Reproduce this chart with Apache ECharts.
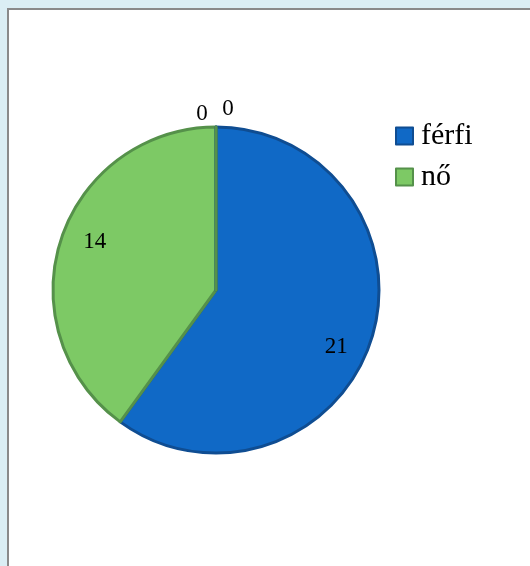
<!DOCTYPE html>
<html>
<head>
<meta charset="utf-8">
<script src="https://cdn.jsdelivr.net/npm/echarts@6/dist/echarts.min.js"></script>
<style>
  html, body { margin: 0; padding: 0; background: #dbeef4; overflow: hidden; }
  #chart {
    position: absolute; left: 7px; top: 8px;
    width: 540px; height: 570px;
    background: #fff;
    border: 2px solid #8a8a8a;
  }
</style>
</head>
<body>
<div id="chart"></div>
<script>
// categories and values
const categories = ['férfi', 'nő', ' ', '  ']
const values = [21, 14, 0, 0]
const legendNames = ['férfi', 'nő']

const fills = ['#1069c6', '#7dc965', '#1069c6', '#7dc965']
const borders = ['#0f4d92', '#55914a', '#0f4d92', '#55914a']
// label nudges so the numbers sit where the original placed them
const labelOffsets = [[40, 31], [-41, -22], [-14, -92], [12, -97]]

const chart = echarts.init(document.getElementById('chart'))

chart.setOption({
  animation: false,
  textStyle: { fontFamily: 'Liberation Serif' },
  legend: {
    data: legendNames,
    orient: 'vertical',
    left: 381,
    top: 106,
    itemWidth: 17,
    itemHeight: 17,
    itemGap: 11,
    icon: 'rect',
    textStyle: {
      fontSize: 30, lineHeight: 28, color: '#000',
      fontFamily: 'Liberation Serif', padding: [0, 0, 0, 3]
    }
  },
  series: [
    {
      type: 'pie',
      center: [207, 280],
      radius: 163,
      startAngle: 90,
      clockwise: true,
      avoidLabelOverlap: false,
      stillShowZeroSum: true,
      emphasis: { disabled: true },
      labelLine: { show: false },
      data: categories.map((name, i) => ({
        name: name,
        value: values[i],
        itemStyle: { color: fills[i], borderColor: borders[i], borderWidth: 3 },
        label: {
          show: true,
          position: 'inside',
          formatter: '{c}',
          fontSize: 23,
          color: '#000',
          fontFamily: 'Liberation Serif',
          offset: labelOffsets[i]
        }
      }))
    }
  ]
})
</script>
</body>
</html>
